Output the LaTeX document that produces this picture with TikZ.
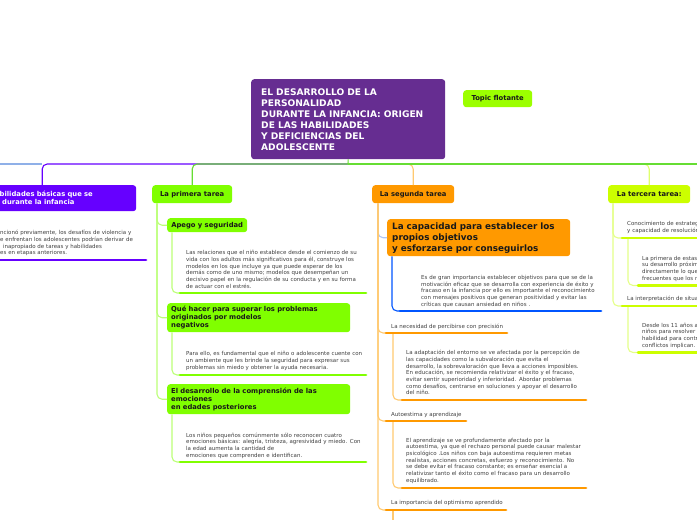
\documentclass[tikz,border=0pt]{standalone}
\usepackage{fontspec}
\setmainfont{DejaVu Sans}
\definecolor{rootc}{HTML}{662D91}
\definecolor{violetc}{HTML}{6600FF}
\definecolor{greenc}{HTML}{80FF00}
\definecolor{greenl}{HTML}{BBFF77}
\definecolor{orangec}{HTML}{FF9900}
\definecolor{orangel}{HTML}{FFC970}
\definecolor{limec}{HTML}{CCFF00}
\definecolor{limel}{HTML}{E4FF88}
\definecolor{bluec}{HTML}{0055FF}
\definecolor{bluel}{HTML}{AFC6F5}
\definecolor{floatc}{HTML}{9CFF00}
\definecolor{txt}{HTML}{404040}
\definecolor{hubgreen}{HTML}{66DD33}
\definecolor{skyl}{HTML}{8FB0E8}
\newcommand{\dep}[1]{\rule[-#1pt]{0pt}{0pt}}
\begin{document}
\begin{tikzpicture}[x=1pt,y=-1pt,
  rc/.style={rounded corners=5pt},
  conn/.style={line width=1.1pt, rc},
  ulx/.style={line width=2.8pt, line cap=round},
  boxn/.style={rectangle, rounded corners=3pt, inner ysep=0pt, anchor=north west,
    font=\bfseries\fontsize{6.8}{8}\selectfont, text=black!90},
  bodyt/.style={anchor=south west, inner ysep=0pt, align=left,
    font=\fontsize{5.5}{6.7}\selectfont, text=txt},
]
\useasboundingbox (0,0) rectangle (697,520);
\clip (0,0) rectangle (697,520);

% ---------- boxes ----------
\node[boxn, fill=rootc, text=white, minimum height=80pt, text width=174pt, inner xsep=10pt,
  align=left, font=\bfseries\fontsize{9.1}{11}\selectfont] (root) at (251,79)
  {EL DESARROLLO DE LA\\PERSONALIDAD\\DURANTE LA INFANCIA: ORIGEN\\DE LAS HABILIDADES\\Y DEFICIENCIAS DEL\\ADOLESCENTE};
\node[boxn, fill=floatc, minimum height=17pt, minimum width=69pt, align=center] (tf) at (463,90) {Topic flotante};

\node[boxn, fill=violetc, text=white, minimum height=26pt, text width=117pt, inner xsep=19.5pt, align=left] (lb) at (-20,185)
  {bilidades básicas que se\\\hspace*{2.5pt}durante la infancia};

\node[boxn, fill=greenc, minimum height=18pt, minimum width=80pt] (t1) at (152,185) {La primera tarea};
\node[boxn, fill=orangec, minimum height=18pt, minimum width=82pt] (t2) at (372,185) {La segunda tarea};
\node[boxn, fill=limec, minimum height=18pt, minimum width=82pt] (t3) at (608,185) {La tercera tarea:};

\node[boxn, fill=greenc, minimum height=14pt, minimum width=80pt] (s1) at (167,218) {Apego y seguridad};
\node[boxn, fill=greenc, minimum height=29pt, text width=175pt, inner xsep=4pt, align=left] (s2) at (167,303)
  {Qué hacer para superar los problemas\\originados por modelos\\negativos};
\node[boxn, fill=greenc, minimum height=30pt, text width=175pt, inner xsep=4pt, align=left] (s3) at (167,384)
  {El desarrollo de la comprensión de las\\emociones\\en edades posteriores};
\node[boxn, fill=orangec, minimum height=37pt, text width=173pt, inner xsep=5pt, align=left,
  font=\bfseries\fontsize{8.8}{11}\selectfont] (c1) at (387,219)
  {La capacidad para establecer los\\propios objetivos\\y esforzarse por conseguirlos};

% ---------- texts ----------
\node[bodyt, inner xsep=0pt, text width=160pt] (bl) at (0,260)
  {ncionó previamente, los desafíos de violencia y\\e enfrentan los adolescentes podrían derivar de\\\hspace*{2.8pt}inapropiado de tareas y habilidades\\es en etapas anteriores.\dep{5}};

\node[bodyt, inner xsep=6pt, text width=185pt] (b1) at (180,293)
  {Las relaciones que el niño establece desde el comienzo de su\\vida con los adultos más significativos para él, construye los\\modelos en los que incluye ya que puede esperar de los\\demás como de uno mismo; modelos que desempeñan un\\decisivo papel en la regulación de su conducta y en su forma\\de actuar con el estrés.\dep{4.5}};
\node[bodyt, inner xsep=6pt, text width=185pt] (b2) at (180,375)
  {Para ello, es fundamental que el niño o adolescente cuente con\\un ambiente que les brinde la seguridad para expresar sus\\problemas sin miedo y obtener la ayuda necesaria.\dep{5.5}};
\node[bodyt, inner xsep=6pt, text width=185pt] (b3) at (180,462)
  {Los niños pequeños comúnmente sólo reconocen cuatro\\emociones básicas: alegría, tristeza, agresividad y miedo. Con\\la edad aumenta la cantidad de\\emociones que comprenden e identifican.\dep{4.5}};

\node[bodyt, inner xsep=21pt, text width=185pt] (bc) at (400,311)
  {Es de gran importancia establecer objetivos para que se de la\\motivación eficaz que se  desarrolla con experiencia de éxito y\\fracaso en la  infancia por ello es importante el reconocimiento\\con mensajes positivos que generan positividad y evitar las\\críticas que causan ansiedad en niños .\dep{4.5}};

\node[bodyt, inner xsep=5pt] (p1) at (386,333) {La necesidad de percibirse con precisión\dep{4.5}};
\node[bodyt, inner xsep=4pt, text width=185pt] (bn) at (402,400)
  {La adaptación del entorno se ve afectada por la percepción de\\las capacidades como la  subvaloración que  evita el\\desarrollo, la sobrevaloración que lleva a acciones imposibles.\\En educación, se recomienda relativizar el  éxito y el fracaso,\\evitar sentir superioridad y inferioridad. Abordar problemas\\como desafíos, centrarse en soluciones y apoyar el desarrollo\\del niño.\dep{5}};
\node[bodyt, inner xsep=5pt] (p2) at (386,421) {Autoestima y aprendizaje\dep{4.5}};
\node[bodyt, inner xsep=4pt, text width=185pt] (ba) at (402,488)
  {El aprendizaje se ve profundamente afectado por la\\autoestima, ya que el rechazo personal puede causar malestar\\psicológico .Los niños con baja autoestima requieren metas\\realistas, acciones concretas, esfuerzo y reconocimiento. No\\se debe evitar el fracaso constante; es enseñar esencial a\\relativizar tanto el éxito como el fracaso para un desarrollo\\equilibrado.\dep{5.5}};
\node[bodyt, inner xsep=5pt] (p3) at (386,510) {La importancia del optimismo aprendido\dep{5}};
\coordinate (p3end) at (393,524);

\node[bodyt, inner xsep=5pt, text width=90pt] (q1) at (622,238) {Conocimiento de estrateg\\y capacidad de resolución\dep{5.5}};
\node[bodyt, inner xsep=4pt, text width=80pt] (qb1) at (638,285.5)
  {La primera de estas\\su desarrollo próxim\\directamente lo que\\frecuentes que los n\dep{5}};
\node[bodyt, inner xsep=5pt, text width=90pt] (q2) at (622,306) {La interpretación de situa\dep{5.5}};
\node[bodyt, inner xsep=4pt, text width=80pt] (qb2) at (638,352.5)
  {Desde los 11 años a\\niños para resolver\\habilidad para contr\\conflictos implican.\dep{5}};

% ---------- main connectors ----------
\coordinate (hub) at (348,164);
\coordinate (leftend) at (-2,164);
\coordinate (rightend) at (699,164);
\draw[conn, skyl] (leftend) -- ([xshift=-16pt]lb.north |- hub);
\draw[conn, violetc] (hub) -| ([xshift=-16pt]lb.north);
\draw[conn, hubgreen] (hub) -| (t1.north);
\draw[conn, orangel] (hub) -| (t2.north);
\draw[conn, limel!80!limec] (hub) -| (t3.north);
\draw[conn, hubgreen] (hub) -- (rightend);
\draw[conn, hubgreen] (root.south) -- (hub);

% ---------- first task ----------
\draw[conn, greenl] ([xshift=5pt]t1.south west) |- (s1.west);
\draw[conn, greenl] ([xshift=5pt]t1.south west) |- (s2.west);
\draw[conn, greenl] ([xshift=5pt]t1.south west) |- (s3.west);
\draw[conn, greenl] ([xshift=5pt]s1.south west) |- (b1.south west);
\draw[conn, greenl] ([xshift=5pt]s2.south west) |- (b2.south west);
\draw[conn, greenl] ([xshift=5pt]s3.south west) |- (b3.south west);
\draw[ulx, greenc] (b1.south west) -- ++(186,0);
\draw[ulx, greenc] (b2.south west) -- ++(186,0);
\draw[ulx, greenc] (b3.south west) -- ++(186,0);

% ---------- second task ----------
\draw[conn, bluel] ([xshift=6pt]t2.south west) |- (c1.west);
\draw[conn, orangel] ([xshift=6pt]t2.south west) |- (p1.south west);
\draw[conn, orangel] ([xshift=6pt]t2.south west) |- (p2.south west);
\draw[conn, orangel] ([xshift=6pt]t2.south west) |- (p3.south west);
\draw[conn, bluec] ([xshift=5pt]c1.south west) |- (bc.south west);
\draw[ulx, bluec] (bc.south west) -- ++(201,0);
\draw[conn, orangel] ([xshift=7pt]p1.south west) |- (bn.south west);
\draw[conn, orangel] ([xshift=7pt]p2.south west) |- (ba.south west);
\draw[conn, orangel] ([xshift=7pt]p3.south west) -- (p3end);
\draw[ulx, orangec] (p1.south west) -- ++(121,0);
\draw[ulx, orangec] (p2.south west) -- ++(80,0);
\draw[ulx, orangec] (p3.south west) -- ++(120,0);
\draw[ulx, orangec] (bn.south west) -- ++(184,0);
\draw[ulx, orangec] (ba.south west) -- ++(184,0);

% ---------- third task ----------
\draw[conn, limel] ([xshift=5pt]t3.south west) |- (q1.south west);
\draw[conn, limel] ([xshift=5pt]t3.south west) |- (q2.south west);
\draw[conn, limel] ([xshift=6pt]q1.south west) |- (qb1.south west);
\draw[conn, limel] ([xshift=6pt]q2.south west) |- (qb2.south west);
\draw[ulx, limec] (q1.south west) -- ++(80,0);
\draw[ulx, limec] (q2.south west) -- ++(80,0);
\draw[ulx, limec] (qb1.south west) -- ++(65,0);
\draw[ulx, limec] (qb2.south west) -- ++(65,0);

% ---------- left branch ----------
\draw[ulx, violetc] (bl.south west) -- ++(146,0);
\end{tikzpicture}
\end{document}
